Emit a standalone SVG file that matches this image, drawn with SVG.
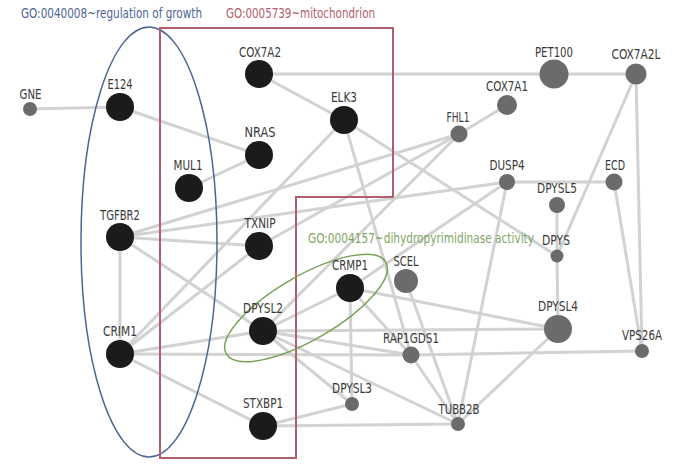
<svg xmlns="http://www.w3.org/2000/svg" width="679" height="472" viewBox="0 0 679 472">
<style>
.e{stroke:#d2d2d2;stroke-width:3;fill:none}
.b{fill:#1b1b1b}
.g{fill:#6b6b6b}
.t{font-family:"Liberation Sans Narrow","DejaVu Sans Condensed","Liberation Sans",sans-serif;font-size:14px;fill:#3a3a3a;text-anchor:middle}
.h{font-family:"Liberation Sans Narrow","DejaVu Sans Condensed","Liberation Sans",sans-serif;font-size:14.5px}
</style>
<rect width="679" height="472" fill="#ffffff"/>
<g id="connectors" class="e">
<line x1="30" y1="109" x2="120" y2="107"/>
<line x1="120" y1="107" x2="259" y2="155"/>
<line x1="189" y1="188" x2="259" y2="155"/>
<line x1="259" y1="74" x2="554" y2="74"/>
<line x1="554" y1="74" x2="636" y2="74"/>
<line x1="259" y1="74" x2="344" y2="120"/>
<line x1="344" y1="120" x2="120" y2="354"/>
<line x1="344" y1="120" x2="557" y2="256"/>
<line x1="344" y1="120" x2="411" y2="355"/>
<line x1="507" y1="105" x2="459" y2="134"/>
<line x1="459" y1="134" x2="120" y2="237"/>
<line x1="459" y1="134" x2="259" y2="246"/>
<line x1="459" y1="134" x2="263" y2="331"/>
<line x1="120" y1="237" x2="507" y2="182"/>
<line x1="120" y1="237" x2="259" y2="246"/>
<line x1="120" y1="237" x2="263" y2="331"/>
<line x1="120" y1="237" x2="120" y2="354"/>
<line x1="120" y1="354" x2="259" y2="246"/>
<line x1="120" y1="354" x2="263" y2="331"/>
<line x1="120" y1="354" x2="411" y2="355"/>
<line x1="411" y1="355" x2="642" y2="351"/>
<line x1="120" y1="354" x2="263" y2="426"/>
<line x1="350" y1="288" x2="263" y2="331"/>
<line x1="350" y1="288" x2="507" y2="182"/>
<line x1="350" y1="288" x2="558" y2="329"/>
<line x1="350" y1="288" x2="411" y2="355"/>
<line x1="350" y1="288" x2="352" y2="404"/>
<line x1="263" y1="331" x2="558" y2="329"/>
<line x1="263" y1="331" x2="411" y2="355"/>
<line x1="263" y1="331" x2="458" y2="424"/>
<line x1="263" y1="331" x2="352" y2="404"/>
<line x1="263" y1="426" x2="352" y2="404"/>
<line x1="263" y1="426" x2="458" y2="424"/>
<line x1="406" y1="281" x2="458" y2="424"/>
<line x1="411" y1="355" x2="458" y2="424"/>
<line x1="507" y1="182" x2="458" y2="424"/>
<line x1="558" y1="329" x2="458" y2="424"/>
<line x1="507" y1="182" x2="614" y2="182"/>
<line x1="614" y1="182" x2="642" y2="351"/>
<line x1="636" y1="74" x2="642" y2="351"/>
<line x1="636" y1="74" x2="557" y2="256"/>
<line x1="557" y1="205" x2="557" y2="256"/>
<line x1="557" y1="256" x2="558" y2="329"/>
</g>
<g id="go-growth">
<ellipse cx="149" cy="242" rx="68" ry="215" fill="none" stroke="#4d6495" stroke-width="1.5"/>
<text class="h" x="21" y="18" fill="#4d6495" textLength="181" lengthAdjust="spacingAndGlyphs">GO:0040008~regulation of growth</text>
</g>
<g id="go-mitochondrion">
<polygon points="160,28 393,28 393,197 296,197 296,458 160,458" fill="none" stroke="#b25e6b" stroke-width="2"/>
<text class="h" x="226" y="18" fill="#b25e6b" textLength="149" lengthAdjust="spacingAndGlyphs">GO:0005739~mitochondrion</text>
</g>
<g id="go-dihydropyrimidinase">
<ellipse cx="306" cy="308" rx="92" ry="32" transform="rotate(-30 306 308)" fill="none" stroke="#78a257" stroke-width="1.5"/>
<text class="h" x="308" y="243" fill="#7fa565" textLength="226" lengthAdjust="spacingAndGlyphs">GO:0004157~dihydropyrimidinase activity</text>
</g>
<g id="GNE"><circle class="g" cx="30" cy="109" r="7"/><text class="t" x="30.5" y="99" textLength="22" lengthAdjust="spacingAndGlyphs">GNE</text></g>
<g id="E124"><circle class="b" cx="120" cy="107" r="14"/><text class="t" x="120" y="89" textLength="25" lengthAdjust="spacingAndGlyphs">E124</text></g>
<g id="COX7A2"><circle class="b" cx="259" cy="74" r="14"/><text class="t" x="260" y="57" textLength="42" lengthAdjust="spacingAndGlyphs">COX7A2</text></g>
<g id="ELK3"><circle class="b" cx="344" cy="120" r="14"/><text class="t" x="344" y="102" textLength="26" lengthAdjust="spacingAndGlyphs">ELK3</text></g>
<g id="NRAS"><circle class="b" cx="259" cy="155" r="14"/><text class="t" x="260" y="137" textLength="31" lengthAdjust="spacingAndGlyphs">NRAS</text></g>
<g id="MUL1"><circle class="b" cx="189" cy="188" r="14"/><text class="t" x="188" y="170" textLength="29" lengthAdjust="spacingAndGlyphs">MUL1</text></g>
<g id="TGFBR2"><circle class="b" cx="120" cy="237" r="14"/><text class="t" x="120" y="220" textLength="40" lengthAdjust="spacingAndGlyphs">TGFBR2</text></g>
<g id="TXNIP"><circle class="b" cx="259" cy="246" r="14"/><text class="t" x="260" y="228" textLength="31" lengthAdjust="spacingAndGlyphs">TXNIP</text></g>
<g id="CRMP1"><circle class="b" cx="350" cy="288" r="14"/><text class="t" x="350" y="270" textLength="36" lengthAdjust="spacingAndGlyphs">CRMP1</text></g>
<g id="DPYSL2"><circle class="b" cx="263" cy="331" r="14"/><text class="t" x="263" y="313" textLength="40" lengthAdjust="spacingAndGlyphs">DPYSL2</text></g>
<g id="CRIM1"><circle class="b" cx="120" cy="354" r="14"/><text class="t" x="120" y="336" textLength="34" lengthAdjust="spacingAndGlyphs">CRIM1</text></g>
<g id="STXBP1"><circle class="b" cx="263" cy="426" r="14"/><text class="t" x="263" y="408" textLength="40" lengthAdjust="spacingAndGlyphs">STXBP1</text></g>
<g id="PET100"><circle class="g" cx="554" cy="74" r="14.5"/><text class="t" x="554" y="57" textLength="38" lengthAdjust="spacingAndGlyphs">PET100</text></g>
<g id="COX7A2L"><circle class="g" cx="636" cy="74" r="10.5"/><text class="t" x="636" y="59" textLength="49" lengthAdjust="spacingAndGlyphs">COX7A2L</text></g>
<g id="COX7A1"><circle class="g" cx="507" cy="105" r="10"/><text class="t" x="507" y="91" textLength="42" lengthAdjust="spacingAndGlyphs">COX7A1</text></g>
<g id="FHL1"><circle class="g" cx="459" cy="134" r="8.5"/><text class="t" x="458" y="122" textLength="23" lengthAdjust="spacingAndGlyphs">FHL1</text></g>
<g id="DUSP4"><circle class="g" cx="507" cy="182" r="8"/><text class="t" x="507" y="170" textLength="35" lengthAdjust="spacingAndGlyphs">DUSP4</text></g>
<g id="ECD"><circle class="g" cx="614" cy="182" r="8.5"/><text class="t" x="615" y="170" textLength="20" lengthAdjust="spacingAndGlyphs">ECD</text></g>
<g id="DPYSL5"><circle class="g" cx="557" cy="205" r="8"/><text class="t" x="557" y="193" textLength="40" lengthAdjust="spacingAndGlyphs">DPYSL5</text></g>
<g id="DPYS"><circle class="g" cx="557" cy="256" r="6.5"/><text class="t" x="556" y="245" textLength="28" lengthAdjust="spacingAndGlyphs">DPYS</text></g>
<g id="SCEL"><circle class="g" cx="406" cy="281" r="12"/><text class="t" x="406" y="266" textLength="25" lengthAdjust="spacingAndGlyphs">SCEL</text></g>
<g id="DPYSL4"><circle class="g" cx="558" cy="329" r="14"/><text class="t" x="558" y="311" textLength="40" lengthAdjust="spacingAndGlyphs">DPYSL4</text></g>
<g id="VPS26A"><circle class="g" cx="642" cy="351" r="7"/><text class="t" x="642" y="340" textLength="40" lengthAdjust="spacingAndGlyphs">VPS26A</text></g>
<g id="RAP1GDS1"><circle class="g" cx="411" cy="355" r="8.5"/><text class="t" x="411" y="343" textLength="56" lengthAdjust="spacingAndGlyphs">RAP1GDS1</text></g>
<g id="DPYSL3"><circle class="g" cx="352" cy="404" r="7"/><text class="t" x="352" y="393" textLength="40" lengthAdjust="spacingAndGlyphs">DPYSL3</text></g>
<g id="TUBB2B"><circle class="g" cx="458" cy="424" r="7"/><text class="t" x="459" y="414" textLength="41" lengthAdjust="spacingAndGlyphs">TUBB2B</text></g>
</svg>
